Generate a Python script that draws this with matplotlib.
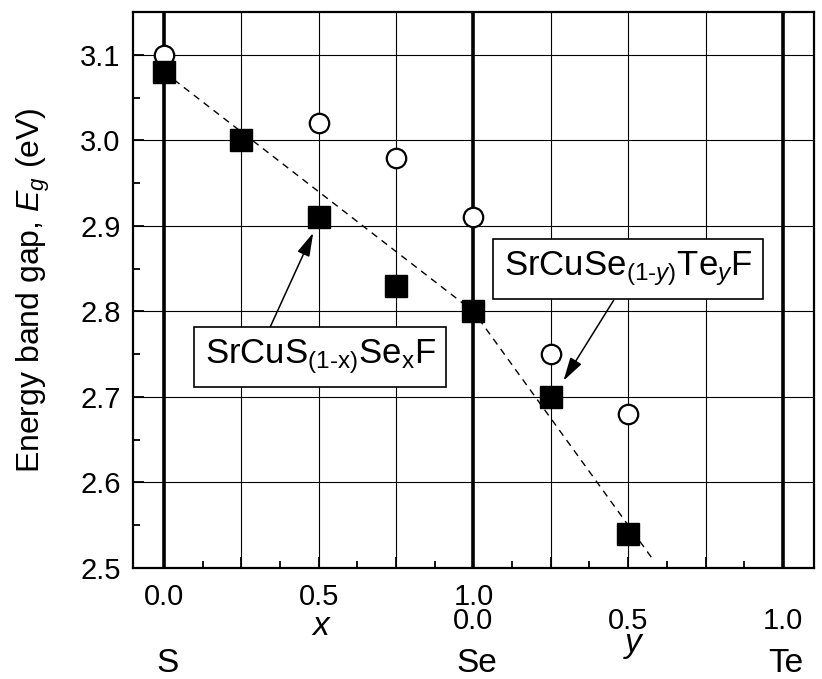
import matplotlib
matplotlib.use("Agg")
import matplotlib.pyplot as plt
from matplotlib.ticker import MultipleLocator, NullFormatter

plt.rcParams['font.family'] = ['Liberation Sans', 'DejaVu Sans']
plt.rcParams['mathtext.fontset'] = 'custom'
plt.rcParams['mathtext.rm'] = 'Liberation Sans'
plt.rcParams['mathtext.it'] = 'Liberation Sans:italic'

# composition axis: 0..1 = S->Se (x), 1..2 = Se->Te (y)
comp_open = [0.0, 0.5, 0.75, 1.0, 1.25, 1.5]
eg_open = [3.10, 3.02, 2.98, 2.91, 2.75, 2.68]

comp_filled = [0.0, 0.25, 0.5, 0.75, 1.0, 1.25, 1.5]
eg_filled = [3.08, 3.00, 2.91, 2.83, 2.80, 2.70, 2.54]

# dashed guide line
guide_x = [0.0, 1.0, 1.58]
guide_y = [3.08, 2.80, 2.51]

row1_pos = [0.0, 0.5, 1.0]
row1_lbl = ["0.0", "0.5", "1.0"]
row2_pos = [1.0, 1.5, 2.0]
row2_lbl = ["0.0", "0.5", "1.0"]
elem_pos = [0.0, 1.0, 2.0]
elem_lbl = ["S", "Se", "Te"]

fig = plt.figure(figsize=(8.22, 6.79), dpi=100)
ax = fig.add_axes([0.162, 0.1635, 0.990 - 0.162, 0.982 - 0.1635])

ax.set_xlim(-0.1, 2.1)
ax.set_ylim(2.5, 3.15)

# grid
ax.xaxis.set_major_locator(MultipleLocator(0.25))
ax.xaxis.set_minor_locator(MultipleLocator(0.125))
ax.yaxis.set_major_locator(MultipleLocator(0.1))
ax.yaxis.set_minor_locator(MultipleLocator(0.05))
ax.grid(True, which='major', color='black', lw=0.8, zorder=0)
for xv in elem_pos:
    ax.axvline(xv, color='black', lw=2.6, zorder=1)

ax.tick_params(which='both', direction='in', top=False, right=False, width=1.3)
ax.tick_params(which='major', length=8)
ax.tick_params(which='minor', length=5)
ax.tick_params(axis='y', labelsize=21, pad=9)
ax.xaxis.set_major_formatter(NullFormatter())
ax.set_axisbelow(True)
for s in ax.spines.values():
    s.set_linewidth(1.6)

ax.plot(guide_x, guide_y, ls=(0, (5, 4)), color='black', lw=1.0, zorder=2)
ax.plot(comp_open, eg_open, 'o', ms=14, mfc='white', mec='black', mew=1.6, zorder=3)
ax.plot(comp_filled, eg_filled, 's', ms=16.5, color='black', zorder=4)

trans = ax.get_xaxis_transform()
for p, t in zip(row1_pos, row1_lbl):
    ax.text(p, -0.0665, t, transform=trans, ha='center', va='baseline', fontsize=21)
for p, t in zip(row2_pos, row2_lbl):
    ax.text(p, -0.110, t, transform=trans, ha='center', va='baseline', fontsize=21)
for p, t in zip(elem_pos, elem_lbl):
    ax.text(p + 0.01, -0.187, t, transform=trans, ha='center', va='baseline', fontsize=24)
ax.text(0.51, -0.1205, r'$x$', transform=trans, ha='center', va='baseline', fontsize=24)
ax.text(1.52, -0.151, r'$y$', transform=trans, ha='center', va='baseline', fontsize=24)

ax.set_ylabel(r'Energy band gap, $E_g$ (eV)', fontsize=23)
ax.yaxis.set_label_coords(-0.119, 0.5)

box = dict(boxstyle='square,pad=0.3', fc='white', ec='black', lw=1.2)
arrow = dict(arrowstyle='-|>,head_length=0.9,head_width=0.25', color='black',
             lw=1.1, mutation_scale=16, shrinkA=0, shrinkB=0)

ax.annotate('', xy=(0.482, 2.892), xytext=(0.333, 2.774), arrowprops=arrow, zorder=5)
ax.text(0.505, 2.747, r'SrCuS$_{\mathrm{(1\text{-}x)}}$Se$_{\mathrm{x}}$F', fontsize=25,
        ha='center', va='center', bbox=box, zorder=6)

ax.annotate('', xy=(1.291, 2.719), xytext=(1.453, 2.813), arrowprops=arrow, zorder=5)
ax.text(1.50, 2.850, r'SrCuSe$_{\mathrm{(1\text{-}}y\mathrm{)}}$Te$_y$F', fontsize=25,
        ha='center', va='center', bbox=box, zorder=6)

fig.savefig('out.png', dpi=100)
